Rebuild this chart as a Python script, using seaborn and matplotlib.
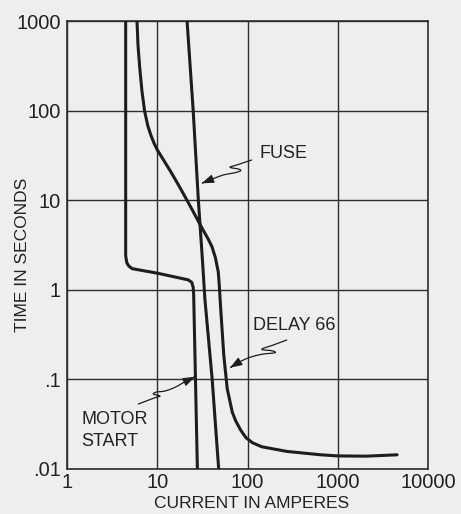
import numpy as np
import pandas as pd
import matplotlib
matplotlib.use("Agg")
import matplotlib.pyplot as plt
import seaborn as sns
from matplotlib.patches import FancyArrowPatch
from matplotlib.path import Path

# Time-current characteristics (amperes, seconds)
motor_amps = [4.44, 4.44, 4.57, 4.81, 5.24, 10.0, 21.9, 24.0, 24.9, 25.2, 27.7]
motor_secs = [1000, 2.40, 2.00, 1.84, 1.72, 1.53, 1.29, 1.21, 1.06, 0.88, 0.01]

fuse_amps = [21.3, 24.9, 28.4, 31.5, 33.6, 40.4, 47.7]
fuse_secs = [1000, 100, 10.0, 2.17, 0.776, 0.10, 0.01]

delay_amps = [5.93, 6.08, 6.35, 6.72, 7.19, 7.80, 8.47, 9.17, 10.0, 11.7, 14.1,
              17.3, 20.8, 24.9, 31.0, 36.8, 40.2, 43.9, 45.7, 47.2, 48.4, 50.3,
              54.4, 59.4, 67.6, 73.9, 84.1, 95.6, 113, 143, 272, 647, 1000,
              2040, 4540]
delay_secs = [1000, 541, 307, 168, 100, 68.3, 53.0, 43.3, 36.2, 28.1, 20.7,
              14.5, 10.4, 7.47, 4.94, 3.63, 3.03, 2.28, 1.86, 1.59, 1.14, 0.603,
              0.184, 0.078, 0.0427, 0.034, 0.0268, 0.0223, 0.0195, 0.0176,
              0.0156, 0.0143, 0.0139, 0.0138, 0.0143]

x_ticks = [1, 10, 100, 1000, 10000]
x_tick_labels = ["1", "10", "100", "1000", "10000"]
y_ticks = [0.01, 0.1, 1, 10, 100, 1000]
y_tick_labels = [".01", ".1", "1", "10", "100", "1000"]

curves = pd.concat([
    pd.DataFrame({"amps": motor_amps, "secs": motor_secs, "curve": "MOTOR START"}),
    pd.DataFrame({"amps": fuse_amps, "secs": fuse_secs, "curve": "FUSE"}),
    pd.DataFrame({"amps": delay_amps, "secs": delay_secs, "curve": "DELAY 66"}),
], ignore_index=True)

BG = "#eeeeee"
INK = "#1e1c1d"
GRID = "#2e2e2e"
TXT = "#222222"

sns.set_theme(style="white")
plt.rcParams["font.family"] = ["Liberation Sans", "DejaVu Sans"]

W, H = 461, 514
fig = plt.figure(figsize=(W / 100, H / 100), dpi=100, facecolor=BG)
left, right, top, bottom = 67.3, 428.0, 21.3, 468.7
ax = fig.add_axes([left / W, 1 - bottom / H, (right - left) / W, (bottom - top) / H])
ax.set_facecolor(BG)
ax.set_xscale("log")
ax.set_yscale("log")

sns.lineplot(data=curves, x="amps", y="secs", units="curve", estimator=None,
             sort=False, color=INK, linewidth=2.2, legend=False, ax=ax,
             solid_joinstyle="round", zorder=3)

ax.set_xlim(1, 10000)
ax.set_ylim(0.01, 1000)
ax.minorticks_off()
ax.set_xticks(x_ticks)
ax.set_xticklabels(x_tick_labels)
ax.set_yticks(y_ticks)
ax.set_yticklabels(y_tick_labels)
ax.tick_params(axis="both", length=0, labelsize=14.5, colors=TXT)
ax.tick_params(axis="x", pad=3)
ax.tick_params(axis="y", pad=4.5)
ax.grid(True, which="major", color=GRID, linewidth=1.0)
for s in ax.spines.values():
    s.set_visible(True)
    s.set_color(GRID)
    s.set_linewidth(1.2)

ax.set_xlabel("CURRENT IN AMPERES", fontsize=12.5, color=TXT)
ax.set_ylabel("TIME IN SECONDS", fontsize=12.5, color=TXT)
ax.xaxis.set_label_coords((251.5 - left) / (right - left), (bottom - 496) / (bottom - top))
ax.yaxis.set_label_coords((30 - left) / (right - left), (bottom - 254.5) / (bottom - top))


def smooth(pts, n=8):
    p = np.asarray(pts, dtype=float)
    p = np.vstack([p[0], p, p[-1]])
    out = []
    for i in range(1, len(p) - 2):
        p0, p1, p2, p3 = p[i - 1], p[i], p[i + 1], p[i + 2]
        for t in np.linspace(0, 1, n, endpoint=False):
            t2, t3 = t * t, t * t * t
            out.append(0.5 * ((2 * p1) + (-p0 + p2) * t
                              + (2 * p0 - 5 * p1 + 4 * p2 - p3) * t2
                              + (-p0 + 3 * p1 - 3 * p2 + p3) * t3))
    out.append(p[-2])
    return np.array(out)


def leader(pts):
    xy = smooth(pts)
    xy[:, 0] = xy[:, 0] / W
    xy[:, 1] = 1 - xy[:, 1] / H
    arrow = FancyArrowPatch(path=Path(xy), transform=fig.transFigure,
                            arrowstyle="-|>,head_length=0.9,head_width=0.32",
                            mutation_scale=8, color=INK, lw=0.9)
    fig.patches.append(arrow)


leader([(251.7, 160), (236.7, 165), (230, 167.3), (238.3, 169), (240.7, 170.7),
        (235, 172.7), (223.3, 175), (211.7, 179.3), (201.7, 183.3)])
leader([(138.3, 404), (155, 397.7), (160, 396), (153.3, 394), (156.7, 392),
        (165, 391), (175, 387.3), (185, 381.7), (195, 376.7)])
leader([(286.7, 340), (273.3, 345), (261.7, 349.3), (271.7, 350.7), (275, 352.7),
        (261.7, 354.3), (250, 357.3), (240, 361.7), (230, 367.7)])

fig.text(259 / W, 1 - 154 / H, "FUSE", fontsize=13, color=TXT, ha="left", va="center")
fig.text(253 / W, 1 - 325.5 / H, "DELAY 66", fontsize=13, color=TXT, ha="left", va="center")
fig.text(81.5 / W, 1 - 430.5 / H, "MOTOR\nSTART", fontsize=13, color=TXT, ha="left",
         va="center", linespacing=1.42)

fig.savefig("out.png", dpi=100, facecolor=BG)
